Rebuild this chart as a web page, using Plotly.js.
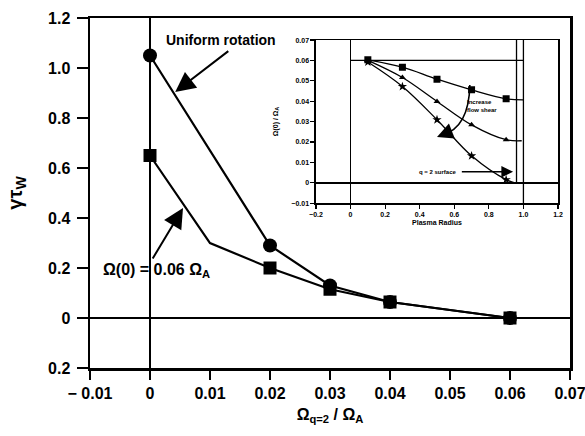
<!DOCTYPE html>
<html>
<head>
<meta charset="utf-8">
<script src="https://cdn.plot.ly/plotly-3.0.1.min.js"></script>
<style>html,body{margin:0;padding:0;background:#fff}#chart{width:585px;height:436px}</style>
</head>
<body>
<div id="chart"></div>
<script>
// Main panel data
const uniformX = [0, 0.02, 0.03, 0.04, 0.06];
const uniformY = [1.05, 0.29, 0.13, 0.064, 0.0];
const shearX = [0, 0.01, 0.02, 0.03, 0.04, 0.06];
const shearY = [0.65, 0.30, 0.20, 0.115, 0.064, 0.0];
const shearHasMarker = [true, false, true, true, true, true];

const mainXTicks = [-0.01, 0, 0.01, 0.02, 0.03, 0.04, 0.05, 0.06, 0.07];
const mainXLabels = ['\u2212 0.01', '0', '0.01', '0.02', '0.03', '0.04', '0.05', '0.06', '0.07'];
const mainYTicks = [-0.2, 0, 0.2, 0.4, 0.6, 0.8, 1.0, 1.2];
const mainYLabels = ['0.2', '0', '0.2', '0.4', '0.6', '0.8', '1.0', '1.2'];

// Inset data (rotation profiles vs plasma radius)
const sqR = [0.1, 0.3, 0.5, 0.7, 0.9, 1.0];
const sqOmega = [0.0603, 0.0567, 0.0508, 0.0456, 0.0412, 0.0407];
const triR = [0.1, 0.3, 0.5, 0.7, 0.9, 0.99];
const triOmega = [0.0600, 0.0516, 0.0399, 0.0284, 0.0211, 0.0206];
const starR = [0.1, 0.3, 0.5, 0.7, 0.9, 0.95];
const starOmega = [0.0592, 0.0472, 0.0309, 0.0132, 0.0015, 0.0];

const insetXTicks = [-0.2, 0, 0.2, 0.4, 0.6, 0.8, 1.0, 1.2];
const insetXLabels = ['\u22120.2', '0', '0.2', '0.4', '0.6', '0.8', '1.0', '1.2'];
const insetYTicks = [-0.01, 0, 0.01, 0.02, 0.03, 0.04, 0.05, 0.06, 0.07];
const insetYLabels = ['\u22120.01', '0', '0.01', '0.02', '0.03', '0.04', '0.05', '0.06', '0.07'];

const omega0 = 0.06;      // central rotation
const q2Surface = 0.96;   // q = 2 surface radius
const edgeRadius = 1.0;

const bold = {family: 'Liberation Sans, Arial, sans-serif', weight: 'bold', color: '#000'};
const f = (size) => Object.assign({}, bold, {size: size});
const mk = (symbol, sizes) => ({symbol: symbol, size: sizes, color: '#000', opacity: 1,
                                line: {width: 0, color: '#000'}});

const traces = [
  {x: uniformX, y: uniformY, mode: 'lines+markers', type: 'scatter',
   line: {color: '#000', width: 2.2}, marker: mk('circle', 14)},
  {x: shearX, y: shearY, mode: 'lines+markers', type: 'scatter',
   line: {color: '#000', width: 2.2},
   marker: mk('square', shearHasMarker.map(m => m ? 13 : 0))},
  // inset curves
  {x: sqR, y: sqOmega, xaxis: 'x2', yaxis: 'y2', mode: 'lines+markers', type: 'scatter',
   line: {color: '#000', width: 1.3, shape: 'spline'},
   marker: mk('square', sqR.map((r, i) => i < sqR.length - 1 ? 7 : 0))},
  {x: triR, y: triOmega, xaxis: 'x2', yaxis: 'y2', mode: 'lines+markers', type: 'scatter',
   line: {color: '#000', width: 1.3, shape: 'spline'},
   marker: mk('triangle-up', triR.map((r, i) => i < triR.length - 1 ? 6 : 0))},
  {x: starR, y: starOmega, xaxis: 'x2', yaxis: 'y2', mode: 'lines+markers', type: 'scatter',
   line: {color: '#000', width: 1.3, shape: 'spline'},
   marker: mk('star', starR.map((r, i) => i < starR.length - 1 ? 7 : 0))}
];

const layout = {
  width: 585, height: 436,
  margin: {l: 90, r: 15, t: 18, b: 68},
  paper_bgcolor: '#fff', plot_bgcolor: '#fff',
  showlegend: false,
  xaxis: {
    range: [-0.01, 0.07], tickvals: mainXTicks, ticktext: mainXLabels,
    ticklabeloverflow: 'allow',
    showline: true, linewidth: 2.5, linecolor: '#000', mirror: true,
    ticks: 'outside', ticklen: 9, tickwidth: 2, tickcolor: '#000',
    showgrid: false, zeroline: true, zerolinewidth: 2, zerolinecolor: '#000',
    tickfont: f(16),
    title: {text: '\u03A9<sub>q=2</sub> / \u03A9<sub>A</sub>', font: f(16), standoff: 8}
  },
  yaxis: {
    range: [-0.2, 1.2], tickvals: mainYTicks, ticktext: mainYLabels,
    ticklabeloverflow: 'allow',
    showline: true, linewidth: 2.5, linecolor: '#000', mirror: true,
    ticks: 'outside', ticklen: 11, tickwidth: 2, tickcolor: '#000',
    showgrid: false, zeroline: true, zerolinewidth: 2, zerolinecolor: '#000',
    tickfont: f(16), ticklabelstandoff: 3,
    title: {text: '\u03B3\u03C4<sub>W</sub>', font: f(20), standoff: 20}
  },
  xaxis2: {
    anchor: 'y2', domain: [0.4708, 0.975],
    range: [-0.2, 1.2], tickvals: insetXTicks, ticktext: insetXLabels,
    ticklabeloverflow: 'allow',
    showline: true, linewidth: 1.5, linecolor: '#000', mirror: true,
    ticks: 'outside', ticklen: 4, tickwidth: 1.2, tickcolor: '#000',
    showgrid: false, zeroline: true, zerolinewidth: 1.5, zerolinecolor: '#000',
    tickfont: f(7),
    title: {text: 'Plasma Radius', font: f(7), standoff: 3}
  },
  yaxis2: {
    anchor: 'x2', domain: [0.471, 0.937],
    range: [-0.01, 0.07], tickvals: insetYTicks, ticktext: insetYLabels,
    ticklabeloverflow: 'allow',
    showline: true, linewidth: 1.5, linecolor: '#000', mirror: true,
    ticks: 'outside', ticklen: 4, tickwidth: 1.2, tickcolor: '#000',
    showgrid: false, zeroline: true, zerolinewidth: 1.5, zerolinecolor: '#000',
    tickfont: f(7),
    title: {text: '\u03A9(0) / \u03A9<sub>A</sub>', font: f(7), standoff: 12}
  },
  shapes: [
    {type: 'line', xref: 'x2', yref: 'y2', x0: 0, x1: edgeRadius, y0: omega0, y1: omega0,
     line: {color: '#000', width: 1.3}},
    {type: 'line', xref: 'x2', yref: 'y2', x0: q2Surface, x1: q2Surface, y0: 0, y1: 0.07,
     line: {color: '#000', width: 1.3}},
    {type: 'line', xref: 'x2', yref: 'y2', x0: edgeRadius, x1: edgeRadius, y0: -0.01, y1: 0.07,
     line: {color: '#000', width: 1.3}},
    {type: 'path', xref: 'x2', yref: 'y2', path: 'M 0.69 0.048 Q 0.685 0.027 0.53 0.0235',
     line: {color: '#000', width: 1.6}}
  ],
  annotations: [
    {xref: 'x', yref: 'y', x: 0.0118, y: 1.112, text: 'Uniform rotation', showarrow: false,
     font: f(14)},
    {xref: 'x', yref: 'y', x: 0.0042, y: 0.904, axref: 'x', ayref: 'y', ax: 0.0133, ay: 1.072,
     text: '', showarrow: true, arrowhead: 2, arrowsize: 2, arrowwidth: 2, arrowcolor: '#000'},
    {xref: 'x', yref: 'y', x: -0.0081, y: 0.192, xanchor: 'left',
     text: '\u03A9(0) = 0.06 \u03A9<sub>A</sub>', showarrow: false, font: f(16)},
    {xref: 'x', yref: 'y', x: 0.0055, y: 0.44, axref: 'x', ayref: 'y', ax: 0.0003, ay: 0.232,
     text: '', showarrow: true, arrowhead: 2, arrowsize: 2, arrowwidth: 2, arrowcolor: '#000'},
    {xref: 'x2', yref: 'y2', x: 0.66, y: 0.0377, xanchor: 'left', align: 'left',
     text: 'Increase<br>flow shear', showarrow: false, font: f(6)},
    {xref: 'x2', yref: 'y2', x: 0.50, y: 0.0225, axref: 'x2', ayref: 'y2', ax: 0.56, ay: 0.0245,
     text: '', showarrow: true, arrowhead: 2, arrowsize: 2, arrowwidth: 1.6, arrowcolor: '#000'},
    {xref: 'x2', yref: 'y2', x: 0.625, y: 0.0054, xanchor: 'right',
     text: 'q = 2 surface', showarrow: false, font: f(6)},
    {xref: 'x2', yref: 'y2', x: 0.94, y: 0.0054, axref: 'x2', ayref: 'y2', ax: 0.635, ay: 0.0054,
     text: '', showarrow: true, arrowhead: 2, arrowsize: 1.8, arrowwidth: 1.3, arrowcolor: '#000'}
  ]
};

Plotly.newPlot('chart', traces, layout, {displayModeBar: false, staticPlot: true});
</script>
</body>
</html>
